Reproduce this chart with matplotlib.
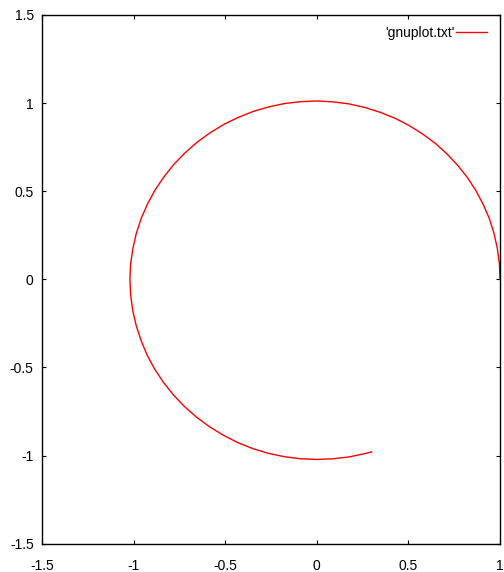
import matplotlib
matplotlib.use("Agg")
import numpy as np
import matplotlib.pyplot as plt

# curve in polar form: angle (deg) and radius
angle_deg = [0, 5, 10, 15, 20, 25, 30, 35, 40, 45, 50, 55, 60, 65, 70, 75, 80, 85, 90,
             95, 100, 105, 110, 115, 120, 125, 130, 135, 140, 145, 150, 155, 160, 165, 170, 175, 180,
             185, 190, 195, 200, 205, 210, 215, 220, 225, 230, 235, 240, 245, 250, 255, 260, 265, 270,
             275, 280, 285, 287]
radius = [1.000, 1.001, 1.001, 1.002, 1.003, 1.003, 1.004, 1.005, 1.005, 1.006, 1.007, 1.007,
          1.008, 1.009, 1.009, 1.010, 1.011, 1.011, 1.012,
          1.012, 1.013, 1.013, 1.014, 1.014, 1.015, 1.015, 1.016, 1.016, 1.017, 1.017, 1.018,
          1.018, 1.019, 1.019, 1.019, 1.020, 1.020,
          1.020, 1.020, 1.020, 1.020, 1.021, 1.021, 1.021, 1.021, 1.021, 1.021, 1.021, 1.021,
          1.022, 1.022, 1.022, 1.022, 1.022, 1.022,
          1.022, 1.023, 1.023, 1.024]

xticks = [-1.5, -1, -0.5, 0, 0.5, 1]
xticklabels = ["-1.5", "-1", "-0.5", "0", "0.5", "1"]
yticks = [-1.5, -1, -0.5, 0, 0.5, 1, 1.5]
yticklabels = ["-1.5", "-1", "-0.5", "0", "0.5", "1", "1.5"]

theta = np.radians(angle_deg)
r = np.array(radius)
xs = r * np.cos(theta)
ys = r * np.sin(theta)

plt.rcParams['font.family'] = ['Liberation Sans', 'DejaVu Sans']

fig = plt.figure(figsize=(5.04, 5.72), dpi=100)
ax = fig.add_axes([0.0833, 0.0495, 0.9087, 0.9243])

ax.plot(xs, ys, color='#ff0000', lw=1.0, label="'gnuplot.txt'")

ax.set_xlim(-1.5, 1)
ax.set_ylim(-1.5, 1.5)
ax.set_xticks(xticks)
ax.set_xticklabels(xticklabels)
ax.set_yticks(yticks)
ax.set_yticklabels(yticklabels)
ax.tick_params(direction='in', length=3, width=0.8, labelsize=10,
               top=True, right=True)
ax.tick_params(axis='x', pad=11)
ax.tick_params(axis='y', pad=6)
for s in ax.spines.values():
    s.set_linewidth(1.0)

ax.legend(loc='upper right', frameon=False, markerfirst=False, fontsize=10,
          handlelength=2.2, handletextpad=0.1, borderaxespad=0.3,
          bbox_to_anchor=(0.992, 0.997))

fig.savefig("out.png", dpi=100)
